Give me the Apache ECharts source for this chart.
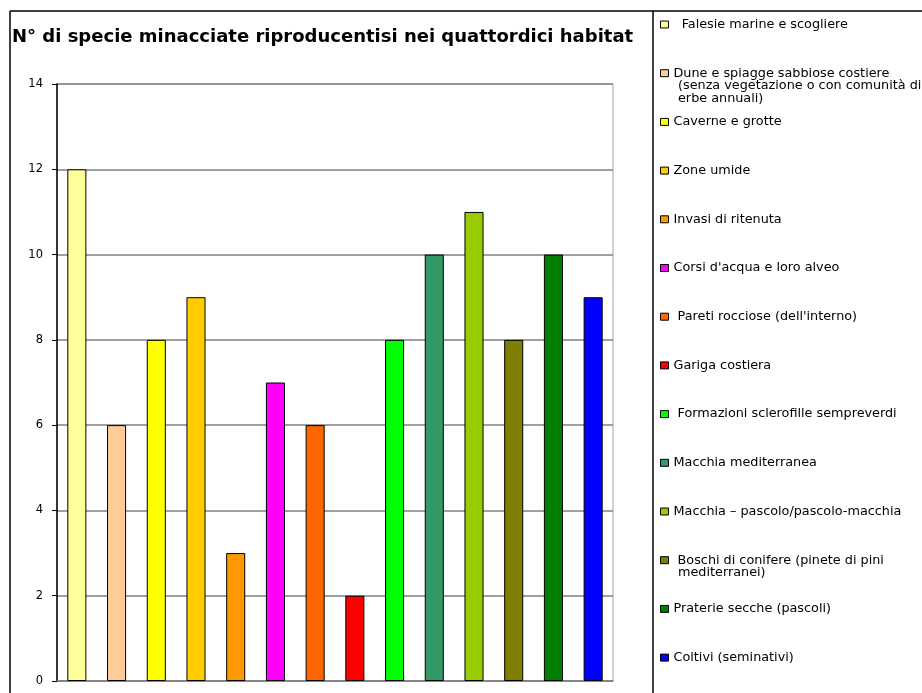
<!DOCTYPE html>
<html>
<head>
<meta charset="utf-8">
<script src="https://cdn.jsdelivr.net/npm/echarts@6/dist/echarts.min.js"></script>
<style>
html,body{margin:0;padding:0;background:#fff;}
#main{width:922px;height:693px;}
</style>
</head>
<body>
<div id="main"></div>
<script>
var titleText = "N° di specie minacciate riproducentisi nei quattordici habitat";
var habitats = [
  ["  Falesie marine e scogliere"],
  ["Dune e spiagge sabbiose costiere", "(senza vegetazione o con comunità di", "erbe annuali)"],
  ["Caverne e grotte"],
  ["Zone umide"],
  ["Invasi di ritenuta"],
  ["Corsi d'acqua e loro alveo"],
  [" Pareti rocciose (dell'interno)"],
  ["Gariga costiera"],
  [" Formazioni sclerofille sempreverdi"],
  ["Macchia mediterranea"],
  ["Macchia – pascolo/pascolo-macchia"],
  [" Boschi di conifere (pinete di pini", "mediterranei)"],
  ["Praterie secche (pascoli)"],
  ["Coltivi (seminativi)"]
];
var values = [12, 6, 8, 9, 3, 7, 6, 2, 8, 10, 11, 8, 10, 9];
var colors = ["#FFFF99", "#FFCC99", "#FFFF00", "#FFCC00", "#FF9900", "#FF00FF", "#FF6600",
              "#FF0000", "#00FF00", "#339966", "#99CC00", "#808000", "#008000", "#0000FF"];
var yTicks = [0, 2, 4, 6, 8, 10, 12, 14];

var FONT = "'DejaVu Sans', 'Liberation Sans', Arial, sans-serif";
var chart = echarts.init(document.getElementById('main'));

var names = habitats.map(function (h) { return h.join(' '); });
var cats = names.map(function (n, i) { return 'c' + i; });

var series = names.map(function (n, i) {
  return {
    name: n,
    type: 'bar',
    stack: 'all',
    barWidth: '48%',
    itemStyle: { color: colors[i], borderColor: '#000', borderWidth: 1 },
    data: values.map(function (v, j) { return j === i ? v : '-'; }),
    silent: true
  };
});

var legendTop0 = 24, legendStep = 48.7, legendLeft = 660, lineH = 12.8;
var legends = [];
var graphics = [
  { type: 'line', shape: { x1: 10, y1: 11, x2: 922, y2: 11 }, style: { stroke: '#000', lineWidth: 1.5 } },
  { type: 'line', shape: { x1: 10, y1: 11, x2: 10, y2: 693 }, style: { stroke: '#000', lineWidth: 1.5 } },
  { type: 'line', shape: { x1: 653, y1: 11, x2: 653, y2: 693 }, style: { stroke: '#000', lineWidth: 1.5 } }
];
habitats.forEach(function (h, i) {
  var cy = legendTop0 + legendStep * i;
  legends.push({
    data: [names[i]],
    left: legendLeft,
    top: cy - 6,
    orient: 'vertical',
    padding: 0,
    itemWidth: 8,
    itemHeight: 7,
    icon: 'rect',
    selectedMode: false,
    itemStyle: { borderColor: '#000', borderWidth: 1 },
    textStyle: { fontFamily: FONT, fontSize: 12.8, color: '#000', lineHeight: 12 },
    formatter: function () { return h[0]; }
  });
  for (var k = 1; k < h.length; k++) {
    graphics.push({
      type: 'text',
      left: 678,
      top: cy - 6.5 + lineH * k,
      style: { text: h[k], font: '12.8px ' + FONT, fill: '#000' }
    });
  }
});

chart.setOption({
  animation: false,
  title: {
    text: titleText,
    left: 12, top: 28,
    padding: 0,
    textStyle: { fontFamily: FONT, fontSize: 18, fontWeight: 'bold', color: '#000' }
  },
  legend: legends,
  grid: { left: 57, right: 309, top: 84, bottom: 12, show: true, borderColor: '#a6a6a6', borderWidth: 1 },
  xAxis: {
    type: 'category',
    data: cats,
    axisLine: { show: true, lineStyle: { color: '#808080', width: 1.5 } },
    axisTick: { show: false },
    axisLabel: { show: false },
    splitLine: { show: false }
  },
  yAxis: {
    type: 'value',
    min: yTicks[0], max: yTicks[yTicks.length - 1], interval: 2,
    axisLine: { show: true, lineStyle: { color: '#000', width: 1.5 } },
    axisTick: { show: true, length: 5, lineStyle: { color: '#000' } },
    axisLabel: { fontFamily: FONT, fontSize: 11.5, color: '#000', margin: 14 },
    splitLine: { show: true, lineStyle: { color: '#808080', width: 1.5 } }
  },
  series: series,
  graphic: graphics
});
</script>
</body>
</html>
